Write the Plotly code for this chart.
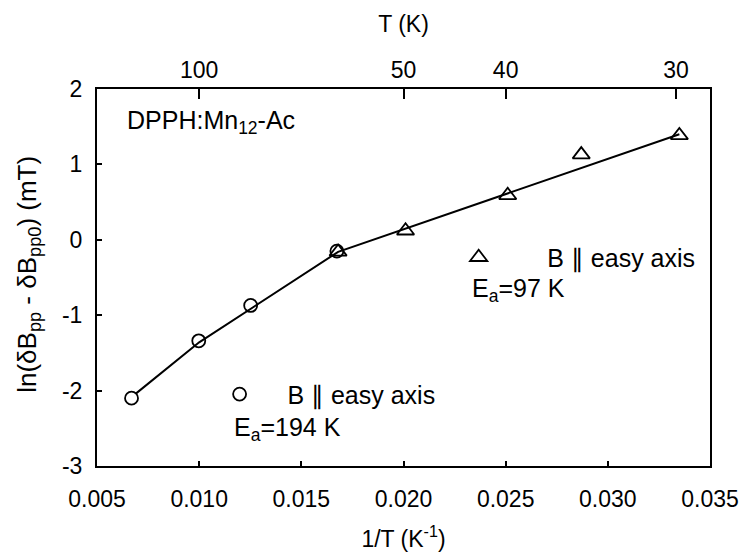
import plotly.graph_objects as go

# Data
circ_x = [0.00669, 0.00998, 0.01252, 0.01674]
circ_y = [-2.10, -1.34, -0.87, -0.15]
tri_x = [0.01680, 0.0201, 0.0251, 0.0287, 0.0335]
tri_y = [-0.16, 0.12, 0.59, 1.13, 1.385]
fit_x = [0.0069, 0.0100, 0.0168, 0.0335]
fit_y = [-2.04, -1.36, -0.16, 1.40]
top_T = [100, 50, 40, 30]
x_ticks = [0.005, 0.010, 0.015, 0.020, 0.025, 0.030, 0.035]
x_ticklabels = ["0.005", "0.010", "0.015", "0.020", "0.025", "0.030", "0.035"]
y_ticks = [2, 1, 0, -1, -2, -3]
y_ticklabels = ["2", "1", "0", "-1", "-2", "-3"]

FONT = "Liberation Sans, Arial, sans-serif"
fs_tick = 23
fs_txt = 25
NB = "\u00a0"

fig = go.Figure()
fig.add_trace(go.Scatter(x=fit_x, y=fit_y, mode="lines",
                         line=dict(color="black", width=2), showlegend=False))
fig.add_trace(go.Scatter(x=circ_x, y=circ_y, mode="markers",
                         marker=dict(symbol="circle-open", size=13, color="black",
                                     line=dict(width=1.8, color="black")),
                         name=NB * 4 + "B \u2225 easy axis", legend="legend"))
fig.add_trace(go.Scatter(x=tri_x, y=tri_y, mode="markers",
                         marker=dict(symbol="triangle-up-open", size=15, color="black",
                                     line=dict(width=1.8, color="black")),
                         name=NB * 7 + "B \u2225 easy axis", legend="legend2"))
# invisible trace for top axis
fig.add_trace(go.Scatter(x=[1.0 / t for t in top_T], y=[None] * len(top_T), xaxis="x2",
                         mode="markers", showlegend=False, hoverinfo="skip"))

fig.update_layout(
    width=751, height=560,
    margin=dict(l=97, r=36, t=89, b=82),
    paper_bgcolor="white", plot_bgcolor="white",
    font=dict(family=FONT, size=fs_tick, color="black"),
    xaxis=dict(range=[0.005, 0.035], tickvals=x_ticks, ticktext=x_ticklabels,
               ticks="inside", ticklen=5, tickwidth=1.5, tickcolor="black",
               showline=True, linecolor="black", linewidth=2, showgrid=False,
               zeroline=False, ticklabelstandoff=11,
               title=dict(text="1/T (K<sup>-1</sup>)", font=dict(size=fs_tick), standoff=20)),
    xaxis2=dict(range=[0.005, 0.035], overlaying="x", side="top",
                tickvals=[1.0 / t for t in top_T], ticktext=[str(t) for t in top_T],
                ticks="inside", ticklen=10, tickwidth=1.5, tickcolor="black",
                showline=True, linecolor="black", linewidth=2, showgrid=False,
                zeroline=False, ticklabelstandoff=0,
                title=dict(text="T (K)", font=dict(size=fs_tick), standoff=18)),
    yaxis=dict(range=[-3, 2], tickvals=y_ticks, ticktext=y_ticklabels,
               ticks="inside", ticklen=5,
               tickwidth=1.5, tickcolor="black", showline=True, mirror=True,
               linecolor="black", linewidth=2, showgrid=False, zeroline=False,
               ticklabelstandoff=8),
    legend=dict(x=0.2, y=0.19, xanchor="left", yanchor="middle",
                bgcolor="rgba(0,0,0,0)", font=dict(size=fs_txt), itemwidth=30),
    legend2=dict(x=0.59, y=0.553, xanchor="left", yanchor="middle",
                 bgcolor="rgba(0,0,0,0)", font=dict(size=fs_txt), itemwidth=30),
    annotations=[
        dict(text="ln(\u03b4B<sub>pp</sub> - \u03b4B<sub>pp0</sub>) (mT)",
             xref="paper", yref="paper", x=-0.113, y=0.509, textangle=-90,
             xanchor="center", yanchor="middle", showarrow=False,
             font=dict(size=26)),
        dict(text="DPPH:Mn<sub>12</sub>-Ac", xref="paper", yref="paper",
             x=0.046, y=0.913, xanchor="left", yanchor="middle", showarrow=False,
             font=dict(size=fs_txt)),
        dict(text="E<sub>a</sub>=194 K", xref="paper", yref="paper",
             x=0.22, y=0.098, xanchor="left", yanchor="middle", showarrow=False,
             font=dict(size=fs_txt)),
        dict(text="E<sub>a</sub>=97 K", xref="paper", yref="paper",
             x=0.608, y=0.468, xanchor="left", yanchor="middle", showarrow=False,
             font=dict(size=fs_txt)),
    ],
)

fig.write_html("out.html")
